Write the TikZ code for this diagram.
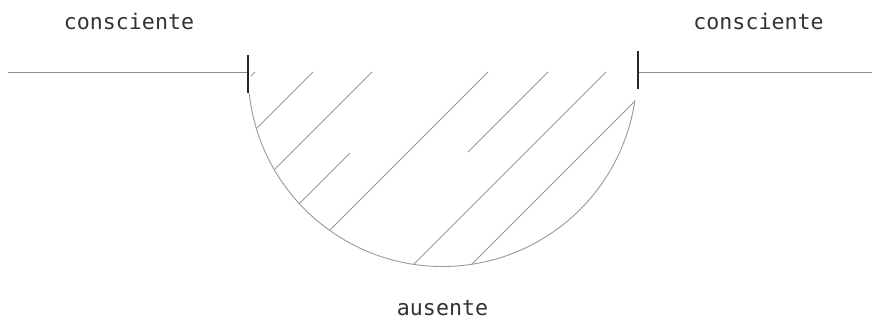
\documentclass[tikz,border=0pt]{standalone}
\usepackage{fontspec}
\setmonofont{DejaVu Sans Mono}
\begin{document}
\begin{tikzpicture}[x=1pt,y=-1pt,
  thin line/.style={draw=black!45,line width=1pt},
  hatch/.style={draw=black!40,line width=0.9pt},
  tickmark/.style={draw=black!85,line width=2.8pt},
  lbl/.style={font=\ttfamily\fontsize{21.6}{26}\selectfont,text=black!80,inner sep=0pt}]
\useasboundingbox (0,0) rectangle (872,325);
% labels
\node[lbl] (cl) at (129,21) {consciente};
\node[lbl] (cr) at (758.5,21) {consciente};
\node[lbl] (au) at (442.5,308) {ausente};
% coordinates
\coordinate (lend) at (8,72);
\coordinate (lt) at (248,72);
\coordinate (rt) at (638,72);
\coordinate (rend) at (872,72);
\coordinate (c) at (442.5,72);
% horizontal lines
\draw[thin line] (lend) -- (lt);
\draw[thin line] (rt) -- (rend);
% semicircle
\draw[hatch] (c) ++(173.8:194.5) arc[start angle=173.8,end angle=8.3,radius=194.5];
% hatching clipped to disc
\begin{scope}
\clip (c) circle (194.5);
\draw[hatch] (313,72) -- ++(-200,200);
\draw[hatch] (372,72) -- ++(-200,200);
\draw[hatch] (350,153) -- ++(-200,200);
\draw[hatch] (488,72) -- ++(-250,250);
\draw[hatch] (548,72) -- (468,152);
\draw[hatch] (606,72) -- ++(-250,250);
\draw[hatch] (664,72) -- ++(-250,250);
\end{scope}
\draw[hatch] (255,72) -- (251,76);
% ticks
\draw[tickmark] (248,55) -- (248,93);
\draw[tickmark] (638,51) -- (638,89);
\end{tikzpicture}
\end{document}
